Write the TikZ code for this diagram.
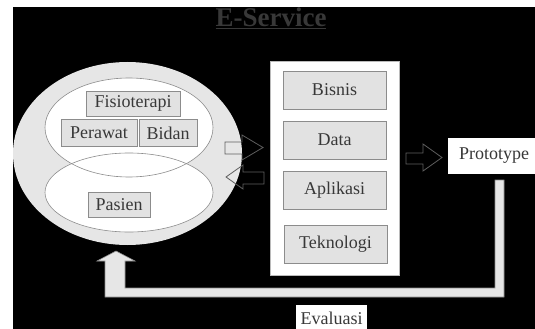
\documentclass[tikz,border=0pt]{standalone}
\usepackage{fontspec}
\setmainfont{Liberation Serif}
\usetikzlibrary{calc}

\definecolor{hellgrau}{HTML}{E6E6E6}
\definecolor{kastengrau}{HTML}{E2E2E2}
\definecolor{randgrau}{HTML}{8C8C8C}
\definecolor{pfeilgrau}{HTML}{5E5E5E}
\definecolor{schrift}{HTML}{383838}

\tikzset{
  kasten/.style={draw=randgrau, fill=kastengrau, text=schrift, inner sep=0pt,
    font=\fontsize{18}{20}\selectfont},
  weisskasten/.style={fill=white, text=schrift, inner sep=0pt,
    font=\fontsize{18}{20}\selectfont},
  blockpfeil/.style={draw=pfeilgrau, line width=0.8pt, line join=miter},
}

\begin{document}
\begin{tikzpicture}[x=1pt, y=-1pt] % 1 Einheit = 1 Pixel, y nach unten
\useasboundingbox (0,0) rectangle (535,329);
\fill [white] (0,0) rectangle (535,329);
\fill [black] (13,7) rectangle (535,329);

%TITEL
\node [anchor=base, text=schrift, inner sep=0pt,
  font=\fontsize{27}{30}\selectfont\bfseries] (titel) at (271,27) {\underline{E-Service}};

%RUECKKOPPLUNG (EVALUASI)
\draw [fill=hellgrau, draw=randgrau, line width=0.6pt]
  (495,180) -- (504,180) -- (504,297) -- (105,297) -- (105,261) -- (97,261)
  -- (116,251) -- (135,261) -- (125,261) -- (125,288) -- (495,288) -- cycle;

%GROSSE ELLIPSE LINKS
\fill [hellgrau] (127.5,153.5) ellipse [x radius=114.5pt, y radius=91.5pt];
\fill [white] (129,127.5) ellipse [x radius=84pt, y radius=49.5pt];
\fill [white] (129,192.5) ellipse [x radius=84pt, y radius=39.5pt];
\draw [randgrau, line width=0.6pt] (129,127.5) ellipse [x radius=84pt, y radius=49.5pt];
\draw [randgrau, line width=0.6pt] (129,192.5) ellipse [x radius=84pt, y radius=39.5pt];

%OBERE ELLIPSE
\node [kasten, minimum width=94pt, minimum height=25pt] (fisio) at (133,103.5) {Fisioterapi};
\node [kasten, minimum width=76pt, minimum height=27pt] (perawat) at (99,133) {Perawat};
\node [kasten, minimum width=58pt, minimum height=27pt] (bidan) at (168,133) {Bidan};

%UNTERE ELLIPSE
\node [kasten, minimum width=62pt, minimum height=25pt] (pasien) at (119,204.5) {Pasien};

%KASTEN MITTE
\node [fill=white, draw=randgrau!60, line width=0.5pt, inner sep=0pt,
  minimum width=129pt, minimum height=214pt] (system) at (334.5,168) {};
\node [kasten, minimum width=103pt, minimum height=38pt] (bisnis) at (334.5,90) {Bisnis};
\node [kasten, minimum width=103pt, minimum height=38pt] (data) at (334.5,140) {Data};
\node [kasten, minimum width=103pt, minimum height=38pt] (aplikasi) at (334.5,190) {Aplikasi};
\node [kasten, minimum width=103pt, minimum height=38pt] (teknologi) at (335.5,244) {Teknologi};

%PROTOTYPE UND EVALUASI
\node [weisskasten, minimum width=92pt, minimum height=36pt] (proto) at (494,156) {Prototype};
\node [weisskasten, minimum width=71pt, minimum height=26pt] (eval) at (331.5,318) {Evaluasi};

%BLOCKPFEILE
\draw [blockpfeil] (225,142) -- (242,142) -- (242,135) -- (263,147.5)
  -- (242,160) -- (242,154) -- (225,154) -- cycle;
\draw [blockpfeil] (264,172) -- (243,172) -- (243,165) -- (226,177)
  -- (243,189) -- (243,184) -- (264,184) -- cycle;
\draw [blockpfeil] (406,153) -- (423,153) -- (423,144) -- (442,157.5)
  -- (423,171) -- (423,164) -- (406,164) -- cycle;

\end{tikzpicture}
\end{document}
